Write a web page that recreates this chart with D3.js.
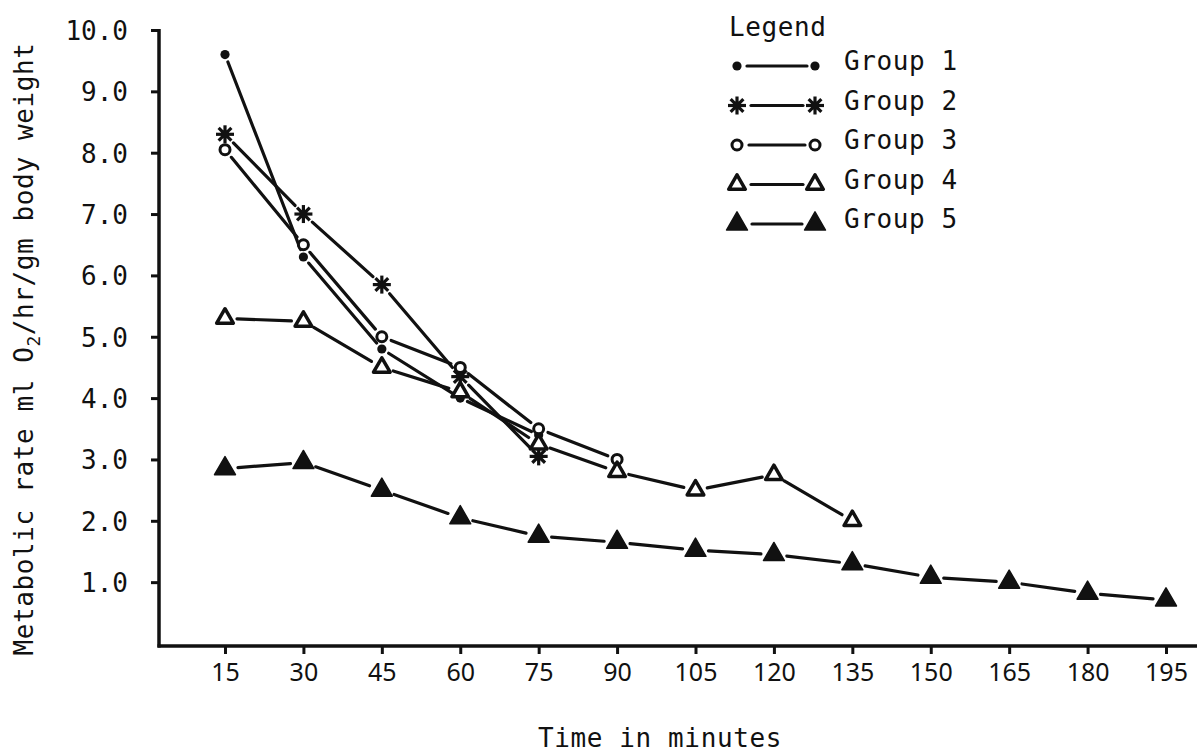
<!DOCTYPE html>
<html>
<head>
<meta charset="utf-8">
<script src="https://cdn.jsdelivr.net/npm/d3@7"></script>
<style>
  html, body { margin: 0; padding: 0; background: #fff; }
  svg { display: block; }
  .mono { font-family: "DejaVu Sans Mono", "Liberation Mono", monospace; fill: #111; }
</style>
</head>
<body>
<script>
// ---- data ----
const timeTicks = [15, 30, 45, 60, 75, 90, 105, 120, 135, 150, 165, 180, 195];
const rateTicks = [1, 2, 3, 4, 5, 6, 7, 8, 9, 10];
const groupNames = ["Group 1", "Group 2", "Group 3", "Group 4", "Group 5"];
const group1Times = [15, 30, 45, 60, 75];
const group1 = [9.6, 6.3, 4.8, 4.0, 3.4];
const group2Times = [15, 30, 45, 60, 75];
const group2 = [8.3, 7.0, 5.85, 4.35, 3.05];
const group3Times = [15, 30, 45, 60, 75, 90];
const group3 = [8.05, 6.5, 5.0, 4.5, 3.5, 3.0];
const group4Times = [15, 30, 45, 60, 75, 90, 105, 120, 135];
const group4 = [5.3, 5.25, 4.5, 4.1, 3.25, 2.8, 2.5, 2.75, 2.0];
const group5Times = [15, 30, 45, 60, 75, 90, 105, 120, 135, 150, 165, 180, 195];
const group5 = [2.85, 2.95, 2.5, 2.05, 1.75, 1.65, 1.52, 1.45, 1.3, 1.08, 1.0, 0.82, 0.71];

const W = 1197, H = 754;
const svg = d3.select("body").append("svg").attr("width", W).attr("height", H);

const x = d3.scaleLinear().domain([15, 195]).range([225, 1166]);
const y = d3.scaleLinear().domain([0, 10]).range([643.5, 30]);
const axisX = 159, axisY = 646;

const ink = "#111";

// ---- axes ----
const yAxis = d3.axisLeft(y).tickValues(rateTicks).tickFormat(d3.format(".1f"))
  .tickSize(8).tickPadding(23).tickSizeOuter(0);
const gy = svg.append("g").attr("transform", `translate(${axisX},0)`).call(yAxis);
gy.select(".domain").remove();
gy.selectAll(".tick line").attr("stroke", ink).attr("stroke-width", 3);
gy.selectAll(".tick text").attr("class", "mono").attr("font-size", 26)
  .attr("font-family", null).attr("dy", "0.36em");

const xAxis = d3.axisBottom(x).tickValues(timeTicks).tickFormat(d3.format("d"))
  .tickSize(8).tickSizeOuter(0);
const gx = svg.append("g").attr("transform", `translate(0,${axisY})`).call(xAxis);
gx.select(".domain").remove();
gx.selectAll(".tick line").attr("stroke", ink).attr("stroke-width", 3);
gx.selectAll(".tick text").attr("font-family", "'Noto Sans', sans-serif")
  .attr("font-size", 25).attr("fill", ink).attr("y", 35).attr("dy", 0);

svg.append("line").attr("x1", axisX).attr("x2", axisX).attr("y1", y(10) - 1).attr("y2", axisY + 1.5)
  .attr("stroke", ink).attr("stroke-width", 3.5);
svg.append("line").attr("x1", axisX - 1.5).attr("x2", W).attr("y1", axisY).attr("y2", axisY)
  .attr("stroke", ink).attr("stroke-width", 3.5);

// axis titles
const yt = svg.append("text").attr("class", "mono").attr("font-size", 26)
  .attr("letter-spacing", 0.6)
  .attr("text-anchor", "middle")
  .attr("transform", `translate(33,349) rotate(-90)`);
yt.append("tspan").text("Metabolic rate ml O");
yt.append("tspan").attr("font-size", 18).attr("dy", 7).text("2");
yt.append("tspan").attr("dy", -7).text("/hr/gm body weight");

svg.append("text").attr("class", "mono").attr("font-size", 26).attr("letter-spacing", 0.6)
  .attr("text-anchor", "middle").attr("x", 660).attr("y", 747).text("Time in minutes");

// ---- markers ----
function drawMarker(g, type, cx, cy) {
  if (type === 0) {
    g.append("circle").attr("cx", cx).attr("cy", cy).attr("r", 4.6).attr("fill", ink);
  } else if (type === 1) {
    const r = 9;
    for (let k = 0; k < 4; k++) {
      const a = k * Math.PI / 4;
      g.append("line")
        .attr("x1", cx - r * Math.cos(a)).attr("y1", cy - r * Math.sin(a))
        .attr("x2", cx + r * Math.cos(a)).attr("y2", cy + r * Math.sin(a))
        .attr("stroke", ink).attr("stroke-width", 3.2);
    }
    g.append("circle").attr("cx", cx).attr("cy", cy).attr("r", 4.2).attr("fill", ink);
  } else if (type === 2) {
    g.append("circle").attr("cx", cx).attr("cy", cy).attr("r", 5)
      .attr("fill", "#fff").attr("stroke", ink).attr("stroke-width", 3);
  } else if (type === 3) {
    g.append("path").attr("transform", `translate(${cx},${cy})`)
      .attr("d", d3.symbol(d3.symbolTriangle, 120)())
      .attr("fill", "#fff").attr("stroke", ink).attr("stroke-width", 3.5)
      .attr("stroke-linejoin", "round");
  } else {
    g.append("path").attr("transform", `translate(${cx},${cy})`)
      .attr("d", d3.symbol(d3.symbolTriangle, 190)())
      .attr("fill", ink).attr("stroke", ink).attr("stroke-width", 1.5)
      .attr("stroke-linejoin", "round");
  }
}

const series = [
  { t: group1Times, v: group1, type: 0, gap: 8 },
  { t: group2Times, v: group2, type: 1, gap: 12 },
  { t: group3Times, v: group3, type: 2, gap: 10 },
  { t: group4Times, v: group4, type: 3, gap: 12 },
  { t: group5Times, v: group5, type: 4, gap: 13 }
];

const plot = svg.append("g");
series.forEach(s => {
  const pts = s.t.map((t, i) => [x(t), y(s.v[i])]);
  // segments with small gaps near the markers
  for (let i = 0; i < pts.length - 1; i++) {
    const [x1, y1] = pts[i], [x2, y2] = pts[i + 1];
    const dx = x2 - x1, dy = y2 - y1, len = Math.hypot(dx, dy);
    const ux = dx / len, uy = dy / len;
    plot.append("line")
      .attr("x1", x1 + ux * s.gap).attr("y1", y1 + uy * s.gap)
      .attr("x2", x2 - ux * s.gap).attr("y2", y2 - uy * s.gap)
      .attr("stroke", ink).attr("stroke-width", 3.2).attr("stroke-linecap", "round");
  }
});
series.forEach(s => {
  const g = plot.append("g");
  s.t.forEach((t, i) => drawMarker(g, s.type, x(t), y(s.v[i])));
});

// ---- legend ----
const leg = svg.append("g");
leg.append("text").attr("class", "mono").attr("font-size", 26).attr("letter-spacing", 0.6)
  .attr("x", 729).attr("y", 36).text("Legend");
groupNames.forEach((name, i) => {
  const base = 70 + i * 39.5;
  const my = base - 4;
  const gap = series[i].gap;
  leg.append("line").attr("x1", 737 + gap + 2).attr("x2", 815 - gap).attr("y1", my).attr("y2", my)
    .attr("stroke", ink).attr("stroke-width", 3.2).attr("stroke-linecap", "round");
  drawMarker(leg, series[i].type, 737, my);
  drawMarker(leg, series[i].type, 815, my);
  leg.append("text").attr("class", "mono").attr("font-size", 26).attr("letter-spacing", 0.6)
    .attr("x", 844).attr("y", base).text(name);
});
</script>
</body>
</html>
